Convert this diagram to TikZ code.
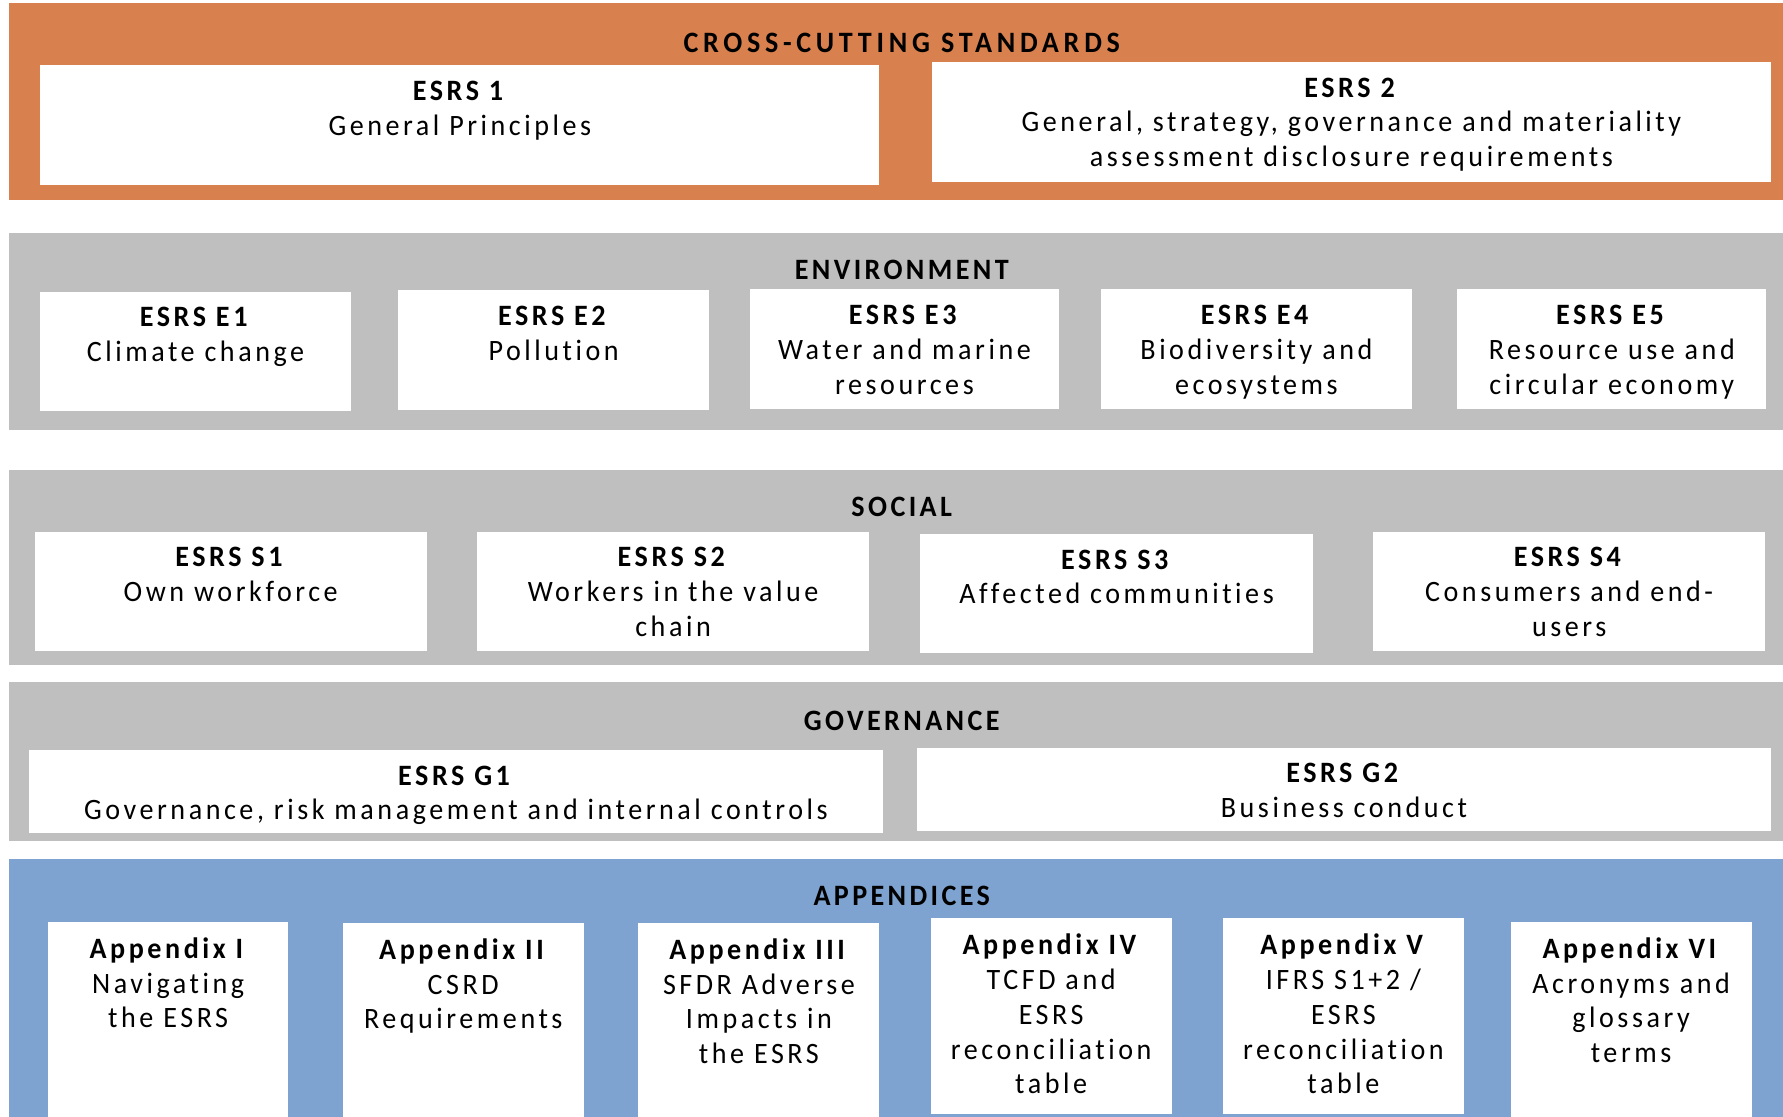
\documentclass[tikz,border=0pt]{standalone}
\usepackage{fontspec}
\setmainfont{Carlito}[LetterSpace=12, FakeStretch=0.95, Ligatures=CommonOff]

\newlength{\du}
\setlength{\du}{0.5pt}

\definecolor{crosscolor}{rgb}{0.847059, 0.501961, 0.305882}
\definecolor{pillarcolor}{rgb}{0.749020, 0.749020, 0.749020}
\definecolor{appxcolor}{rgb}{0.494118, 0.639216, 0.815686}

\tikzset{
  stdbox/.style={fill=white, draw=none, inner sep=0pt, anchor=north west},
  stdtext/.style={anchor=north, align=center, inner xsep=0pt, inner ysep=7pt,
    font=\fontsize{13}{15.3}\selectfont},
  bandtitle/.style={inner sep=0pt, font=\fontsize{13}{15.3}\selectfont\bfseries\addfontfeature{LetterSpace=11.5}},
}

\begin{document}
\begin{tikzpicture}
\pgftransformxscale{1.000000}
\pgftransformyscale{-1.000000}
\useasboundingbox (0\du,0\du) rectangle (1568\du,982\du);
% bands
\fill[crosscolor] (8\du,3\du) rectangle (1568\du,176\du);
\fill[pillarcolor] (8\du,205\du) rectangle (1568\du,378\du);
\fill[pillarcolor] (8\du,413\du) rectangle (1568\du,585\du);
\fill[pillarcolor] (8\du,600\du) rectangle (1568\du,740\du);
\fill[appxcolor] (8\du,755\du) rectangle (1568\du,982\du);
% band titles
\node[bandtitle] (crosstitle) at (793\du,38\du){\addfontfeature{LetterSpace=16}CROSS-CUTTING STANDARDS};
\node[bandtitle] (envtitle) at (793\du,237\du){ENVIRONMENT};
\node[bandtitle] (soctitle) at (793\du,446\du){SOCIAL};
\node[bandtitle] (govtitle) at (793\du,634\du){GOVERNANCE};
\node[bandtitle] (appxtitle) at (793\du,788\du){APPENDICES};
% cross-cutting
\node[stdbox, minimum width=738\du, minimum height=105\du] (esrs1) at (35\du,57\du){};
\node[stdtext] (esrs1t) at (esrs1.north){\textbf{ESRS 1}\\General Principles};
\node[stdbox, minimum width=738\du, minimum height=106\du] (esrs2) at (819\du,54\du){};
\node[stdtext] (esrs2t) at (esrs2.north){\textbf{ESRS 2}\\General, strategy, governance and materiality\\assessment disclosure requirements};
% environment
\node[stdbox, minimum width=273\du, minimum height=105\du] (e1) at (35\du,256\du){};
\node[stdtext] (e1t) at (e1.north){\textbf{ESRS E1}\\Climate change};
\node[stdbox, minimum width=273\du, minimum height=105\du] (e2) at (350\du,255\du){};
\node[stdtext] (e2t) at (e2.north){\textbf{ESRS E2}\\Pollution};
\node[stdbox, minimum width=272\du, minimum height=105\du] (e3) at (659\du,254\du){};
\node[stdtext] (e3t) at (e3.north){\textbf{ESRS E3}\\Water and marine\\resources};
\node[stdbox, minimum width=273\du, minimum height=105\du] (e4) at (968\du,254\du){};
\node[stdtext] (e4t) at (e4.north){\textbf{ESRS E4}\\Biodiversity and\\ecosystems};
\node[stdbox, minimum width=272\du, minimum height=105\du] (e5) at (1281\du,254\du){};
\node[stdtext] (e5t) at (e5.north){\textbf{ESRS E5}\\Resource use and\\circular economy};
% social
\node[stdbox, minimum width=345\du, minimum height=105\du] (s1) at (30\du,467\du){};
\node[stdtext] (s1t) at (s1.north){\textbf{ESRS S1}\\Own workforce};
\node[stdbox, minimum width=345\du, minimum height=105\du] (s2) at (419\du,467\du){};
\node[stdtext] (s2t) at (s2.north){\textbf{ESRS S2}\\Workers in the value\\chain};
\node[stdbox, minimum width=345\du, minimum height=105\du] (s3) at (809\du,469\du){};
\node[stdtext] (s3t) at (s3.north){\textbf{ESRS S3}\\Affected communities};
\node[stdbox, minimum width=345\du, minimum height=105\du] (s4) at (1207\du,467\du){};
\node[stdtext] (s4t) at (s4.north){\textbf{ESRS S4}\\Consumers and end-\\users};
% governance
\node[stdbox, minimum width=751\du, minimum height=73\du] (g1) at (25\du,659\du){};
\node[stdtext] (g1t) at (g1.north){\textbf{ESRS G1}\\Governance, risk management and internal controls};
\node[stdbox, minimum width=751\du, minimum height=73\du] (g2) at (806\du,657\du){};
\node[stdtext] (g2t) at (g2.north){\textbf{ESRS G2}\\Business conduct};
% appendices
\node[stdbox, minimum width=211\du, minimum height=172\du] (appi) at (42\du,810\du){};
\node[stdtext] (appit) at (appi.north){\textbf{Appendix I}\\Navigating\\the ESRS};
\node[stdbox, minimum width=212\du, minimum height=171\du] (appii) at (301\du,811\du){};
\node[stdtext] (appiit) at (appii.north){\textbf{Appendix II}\\CSRD\\Requirements};
\node[stdbox, minimum width=212\du, minimum height=171\du] (appiii) at (561\du,811\du){};
\node[stdtext] (appiiit) at (appiii.north){\textbf{Appendix III}\\SFDR Adverse\\Impacts in\\the ESRS};
\node[stdbox, minimum width=212\du, minimum height=172\du] (appiv) at (818\du,807\du){};
\node[stdtext] (appivt) at (appiv.north){\textbf{Appendix IV}\\TCFD and\\ESRS\\reconciliation\\table};
\node[stdbox, minimum width=212\du, minimum height=172\du] (appv) at (1075\du,807\du){};
\node[stdtext] (appvt) at (appv.north){\textbf{Appendix V}\\IFRS S1+2 /\\ESRS\\reconciliation\\table};
\node[stdbox, minimum width=212\du, minimum height=172\du] (appvi) at (1328\du,810\du){};
\node[stdtext] (appvit) at (appvi.north){\textbf{Appendix VI}\\Acronyms and\\glossary\\terms};
\end{tikzpicture}
\end{document}
